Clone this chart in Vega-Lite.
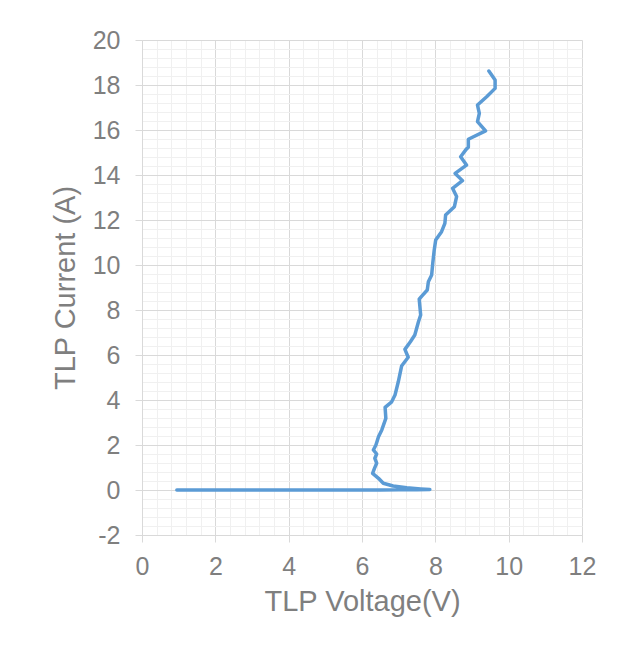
{
  "$schema": "https://vega.github.io/schema/vega-lite/v6.json",
  "width": 440,
  "height": 495,
  "autosize": {"type": "none"},
  "padding": {"left": 142, "top": 40, "right": 53, "bottom": 116},
  "background": "white",
  "config": {"view": {"stroke": null}, "font": "Liberation Sans"},
  "data": {"values": [
    {"i": 1, "v": 0.95, "a": 0},
    {"i": 2, "v": 1.5, "a": 0},
    {"i": 3, "v": 2, "a": 0},
    {"i": 4, "v": 3, "a": 0},
    {"i": 5, "v": 4, "a": 0},
    {"i": 6, "v": 5, "a": 0},
    {"i": 7, "v": 6, "a": 0.002},
    {"i": 8, "v": 6.5, "a": 0.005},
    {"i": 9, "v": 7, "a": 0.01},
    {"i": 10, "v": 7.5, "a": 0.015},
    {"i": 11, "v": 7.85, "a": 0.02},
    {"i": 12, "v": 7.6, "a": 0.05},
    {"i": 13, "v": 7.22, "a": 0.1},
    {"i": 14, "v": 6.85, "a": 0.18},
    {"i": 15, "v": 6.58, "a": 0.3},
    {"i": 16, "v": 6.45, "a": 0.52},
    {"i": 17, "v": 6.29, "a": 0.74},
    {"i": 18, "v": 6.34, "a": 0.96},
    {"i": 19, "v": 6.4, "a": 1.19},
    {"i": 20, "v": 6.35, "a": 1.41},
    {"i": 21, "v": 6.4, "a": 1.6},
    {"i": 22, "v": 6.31, "a": 1.78},
    {"i": 23, "v": 6.38, "a": 2.0},
    {"i": 24, "v": 6.45, "a": 2.37},
    {"i": 25, "v": 6.54, "a": 2.67},
    {"i": 26, "v": 6.65, "a": 3.18},
    {"i": 27, "v": 6.63, "a": 3.67},
    {"i": 28, "v": 6.81, "a": 3.92},
    {"i": 29, "v": 6.9, "a": 4.22},
    {"i": 30, "v": 6.99, "a": 4.81},
    {"i": 31, "v": 7.08, "a": 5.51},
    {"i": 32, "v": 7.26, "a": 5.9},
    {"i": 33, "v": 7.17, "a": 6.25},
    {"i": 34, "v": 7.32, "a": 6.59},
    {"i": 35, "v": 7.44, "a": 6.89},
    {"i": 36, "v": 7.54, "a": 7.48},
    {"i": 37, "v": 7.6, "a": 7.78},
    {"i": 38, "v": 7.56, "a": 8.48},
    {"i": 39, "v": 7.63, "a": 8.62},
    {"i": 40, "v": 7.78, "a": 8.89},
    {"i": 41, "v": 7.81, "a": 9.26},
    {"i": 42, "v": 7.9, "a": 9.56},
    {"i": 43, "v": 7.93, "a": 10.08},
    {"i": 44, "v": 7.97, "a": 10.67},
    {"i": 45, "v": 8.01, "a": 11.11},
    {"i": 46, "v": 8.17, "a": 11.48},
    {"i": 47, "v": 8.26, "a": 11.85},
    {"i": 48, "v": 8.28, "a": 12.22},
    {"i": 49, "v": 8.52, "a": 12.59},
    {"i": 50, "v": 8.58, "a": 13.04},
    {"i": 51, "v": 8.47, "a": 13.41},
    {"i": 52, "v": 8.74, "a": 13.75},
    {"i": 53, "v": 8.54, "a": 14.07},
    {"i": 54, "v": 8.85, "a": 14.44},
    {"i": 55, "v": 8.69, "a": 14.81},
    {"i": 56, "v": 8.84, "a": 15.14},
    {"i": 57, "v": 8.9, "a": 15.23},
    {"i": 58, "v": 8.9, "a": 15.59},
    {"i": 59, "v": 9.37, "a": 15.96},
    {"i": 60, "v": 9.15, "a": 16.37},
    {"i": 61, "v": 9.2, "a": 16.74},
    {"i": 62, "v": 9.15, "a": 17.11},
    {"i": 63, "v": 9.4, "a": 17.48},
    {"i": 64, "v": 9.63, "a": 17.85},
    {"i": 65, "v": 9.63, "a": 18.22},
    {"i": 66, "v": 9.46, "a": 18.62}
  ]},
  "layer": [
    {
      "mark": {"type": "line", "opacity": 0},
      "encoding": {
        "x": {"field": "v", "type": "quantitative", "scale": {"domain": [0, 12], "nice": false},
          "axis": {"orient": "bottom", "values": [0,0.4,0.8,1.2,1.6,2,2.4,2.8,3.2,3.6,4,4.4,4.8,5.2,5.6,6,6.4,6.8,7.2,7.6,8,8.4,8.8,9.2,9.6,10,10.4,10.8,11.2,11.6,12],
            "grid": true, "gridColor": "#f0f0f0", "gridWidth": 1, "labels": false, "ticks": false, "domain": false, "title": null}},
        "y": {"field": "a", "type": "quantitative", "scale": {"domain": [-2, 20], "nice": false, "zero": false},
          "axis": {"orient": "left", "values": [-2,-1.6,-1.2,-0.8,-0.4,0,0.4,0.8,1.2,1.6,2,2.4,2.8,3.2,3.6,4,4.4,4.8,5.2,5.6,6,6.4,6.8,7.2,7.6,8,8.4,8.8,9.2,9.6,10,10.4,10.8,11.2,11.6,12,12.4,12.8,13.2,13.6,14,14.4,14.8,15.2,15.6,16,16.4,16.8,17.2,17.6,18,18.4,18.8,19.2,19.6,20],
            "grid": true, "gridColor": "#f0f0f0", "gridWidth": 1, "labels": false, "ticks": false, "domain": false, "title": null}},
        "order": {"field": "i", "type": "quantitative"}
      }
    },
    {
      "mark": {"type": "line", "color": "#5b9bd5", "strokeWidth": 3.5, "strokeJoin": "round", "strokeCap": "round"},
      "encoding": {
        "x": {"field": "v", "type": "quantitative", "scale": {"domain": [0, 12], "nice": false},
          "axis": {"orient": "bottom", "values": [0,2,4,6,8,10,12], "grid": true, "gridColor": "#d9d9d9", "gridWidth": 1,
            "domainColor": "#d9d9d9", "tickColor": "#d9d9d9", "tickSize": 7, "labelFlush": false,
            "labelFontSize": 25, "labelColor": "#7f7f7f", "labelPadding": 12, "labelExpr": "'' + datum.value",
            "title": "TLP Voltage(V)", "titleFontSize": 29, "titleFontWeight": "normal", "titleColor": "#7f7f7f", "titlePadding": 8}},
        "y": {"field": "a", "type": "quantitative", "scale": {"domain": [-2, 20], "nice": false, "zero": false},
          "axis": {"orient": "left", "values": [-2,0,2,4,6,8,10,12,14,16,18,20], "grid": true, "gridColor": "#d9d9d9", "gridWidth": 1,
            "domainColor": "#d9d9d9", "tickColor": "#d9d9d9", "tickSize": 7, "labelFlush": false,
            "labelFontSize": 25, "labelColor": "#7f7f7f", "labelPadding": 15, "labelExpr": "'' + datum.value",
            "title": "TLP Current (A)", "titleFontSize": 29, "titleFontWeight": "normal", "titleColor": "#7f7f7f", "titlePadding": 12}},
        "order": {"field": "i", "type": "quantitative"}
      }
    }
  ],
  "resolve": {"axis": {"x": "independent", "y": "independent"}}
}
